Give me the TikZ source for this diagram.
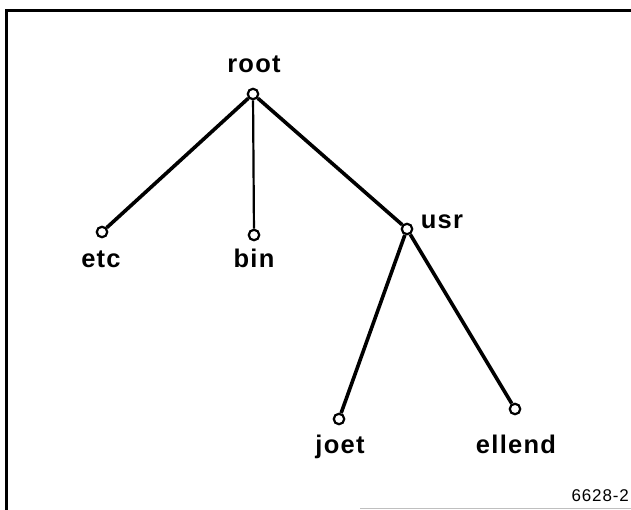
\documentclass[tikz,border=0pt]{standalone}
\usepackage{fontspec}
\setmainfont{Liberation Sans}[LetterSpace=5]
\begin{document}
\begin{tikzpicture}[x=1pt,y=-1pt,
  dir/.style={circle,draw,line width=2.2pt,fill=white,inner sep=0pt,minimum size=10.5pt},
  lab/.style={font=\bfseries\fontsize{25.5}{26}\selectfont,anchor=base,inner sep=0pt},
  edge/.style={line width=3.6pt},
  thinedge/.style={line width=2.2pt},
  frame/.style={line width=3pt}]
\useasboundingbox (0,0) rectangle (631,510);
% frame
\draw[frame] (6,510) -- (6,11) -- (631,11);
\draw[gray!50,line width=0.8pt] (360,508) -- (631,508);
% directories
\node[dir] (root) at (253,94) {};
\node[dir] (etc) at (102,232) {};
\node[dir] (bin) at (254,235) {};
\node[dir] (usr) at (407,229) {};
\node[dir] (joet) at (339,419) {};
\node[dir] (ellend) at (515,409) {};
% tree edges
\draw[edge] (root) -- (etc);
\draw[thinedge] (root) -- (bin);
\draw[edge] (root) -- (usr);
\draw[edge] (usr) -- (joet);
\draw[edge] (usr) -- (ellend);
% labels
\node[lab] (lroot) at (254,73) {root};
\node[lab] (letc) at (101,268) {etc};
\node[lab] (lbin) at (254,268) {bin};
\node[lab] (lusr) at (442,229) {usr};
\node[lab] (ljoet) at (340,453) {joet};
\node[lab] (lellend) at (516,453) {ellend};
\node[font=\fontsize{17}{17}\selectfont,anchor=base east,inner sep=0pt] (fig) at (629,501) {6628-2};
\end{tikzpicture}
\end{document}
